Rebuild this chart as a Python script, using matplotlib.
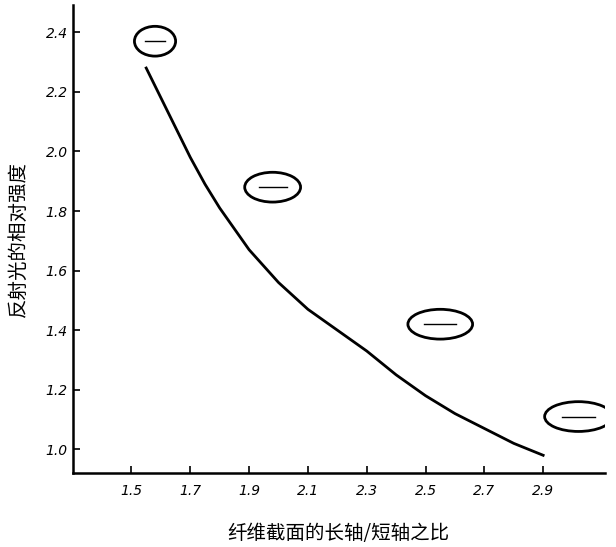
import matplotlib
matplotlib.use("Agg")
import matplotlib.pyplot as plt
from matplotlib.patches import Ellipse

plt.rcParams['font.family'] = ['Noto Sans CJK SC', 'DejaVu Sans']

ratio = [1.55, 1.6, 1.65, 1.7, 1.75, 1.8, 1.85, 1.9, 2.0, 2.1, 2.2, 2.3, 2.4, 2.5, 2.6, 2.7, 2.8, 2.9]
intensity = [2.28, 2.18, 2.08, 1.98, 1.89, 1.81, 1.74, 1.67, 1.56, 1.47, 1.40, 1.33, 1.25, 1.18, 1.12, 1.07, 1.02, 0.98]
xticks = [1.5, 1.7, 1.9, 2.1, 2.3, 2.5, 2.7, 2.9]
yticks = [1.0, 1.2, 1.4, 1.6, 1.8, 2.0, 2.2, 2.4]
shape_x = [1.58, 1.98, 2.55, 3.02]
shape_y = [2.37, 1.88, 1.42, 1.11]
shape_w = [0.14, 0.19, 0.22, 0.23]

fig = plt.figure(figsize=(6.16, 5.47), dpi=100)
ax = fig.add_axes([0.118, 0.135, 0.864, 0.855])
ax.plot(ratio, intensity, color='black', lw=2)
for x, y, w in zip(shape_x, shape_y, shape_w):
    ax.add_patch(Ellipse((x, y), w, 0.1, fill=False, lw=2, color='black'))
    ax.plot([x - w * 0.25, x + w * 0.25], [y, y], color='black', lw=1)
ax.set_xlim(1.30, 3.11)
ax.set_ylim(0.92, 2.49)
ax.set_xticks(xticks)
ax.set_yticks(yticks)
ax.set_xticklabels([f"{v:.1f}" for v in xticks], family='DejaVu Sans', style='italic', fontsize=10)
ax.set_yticklabels([f"{v:.1f}" for v in yticks], family='DejaVu Sans', style='italic', fontsize=10)
ax.tick_params(direction='in', length=5, width=1.2)
ax.tick_params(axis='x', pad=8)
for s in ['top', 'right']:
    ax.spines[s].set_visible(False)
for s in ['left', 'bottom']:
    ax.spines[s].set_linewidth(1.8)
ax.set_xlabel('纤维截面的长轴/短轴之比', fontsize=14, labelpad=18)
ax.set_ylabel('反射光的相对强度', fontsize=14, labelpad=12)
fig.savefig('out.png', dpi=100)
